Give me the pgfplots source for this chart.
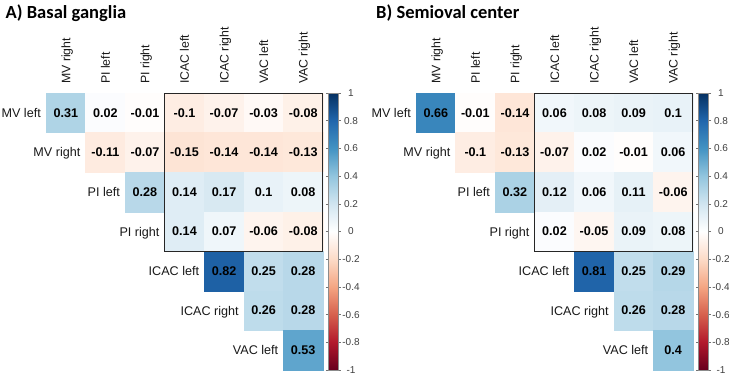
\documentclass[border=0pt]{standalone}
\usepackage{fontspec}
\setmainfont{Liberation Sans}
\newfontfamily\titlefont{Carlito}
\usepackage{pgfplots}
\usepackage{pgfplotstable}
\pgfplotsset{compat=1.18}

% Correlation values (upper triangle): column x, row y, coefficient c
\pgfplotstableread{
x y c
1 1 0.31
2 1 0.02
3 1 -0.01
4 1 -0.1
5 1 -0.07
6 1 -0.03
7 1 -0.08
2 2 -0.11
3 2 -0.07
4 2 -0.15
5 2 -0.14
6 2 -0.14
7 2 -0.13
3 3 0.28
4 3 0.14
5 3 0.17
6 3 0.1
7 3 0.08
4 4 0.14
5 4 0.07
6 4 -0.06
7 4 -0.08
5 5 0.82
6 5 0.25
7 5 0.28
6 6 0.26
7 6 0.28
7 7 0.53
}\basal

\pgfplotstableread{
x y c
1 1 0.66
2 1 -0.01
3 1 -0.14
4 1 0.06
5 1 0.08
6 1 0.09
7 1 0.1
2 2 -0.1
3 2 -0.13
4 2 -0.07
5 2 0.02
6 2 -0.01
7 2 0.06
3 3 0.32
4 3 0.12
5 3 0.06
6 3 0.11
7 3 -0.06
4 4 0.02
5 4 -0.05
6 4 0.09
7 4 0.08
5 5 0.81
6 5 0.25
7 5 0.29
6 6 0.26
7 6 0.28
7 7 0.4
}\semioval

\pgfplotsset{
  colormap={corrcol}{rgb255=(103,0,31) rgb255=(178,24,43) rgb255=(214,96,77)
    rgb255=(244,165,130) rgb255=(253,219,199) rgb255=(255,255,255)
    rgb255=(209,229,240) rgb255=(146,197,222) rgb255=(67,147,195)
    rgb255=(33,102,172) rgb255=(5,48,97)},
  corrpanel/.style={
    anchor=north west, scale only axis, width=277pt, height=277pt,
    xmin=0.5, xmax=7.5, ymin=0.5, ymax=7.5, y dir=reverse,
    hide axis, clip=false,
    colormap name=corrcol,
    point meta min=-1, point meta max=1,
    colorbar right,
    colorbar shift/.style={xshift=5.5pt},
    colorbar style={
      at={(parent axis.north east)}, anchor=north west,
      width=10pt,
      axis line style={draw=black!45, line width=0.4pt},
      ytick={-1,-0.8,-0.6,-0.4,-0.2,0,0.2,0.4,0.6,0.8,1},
      tick align=outside, major tick length=2.5pt,
      ytick style={draw=black!55, line width=0.5pt},
      /pgf/number format/assume math mode=true,
      yticklabel style={font=\fontsize{10}{12}\selectfont, text=black!75,
        anchor=center, xshift=10pt, inner sep=0pt},
    },
  },
}
\tikzset{
  rowlab/.style={anchor=base east, inner sep=0pt, xshift=-5pt, yshift=-4.5pt,
    font=\fontsize{12.6}{15}\selectfont, text=black!90},
  collab/.style={rotate=90, anchor=base west, inner sep=0pt,
    font=\fontsize{12.3}{15}\selectfont, text=black!90},
}

% row and column names; #1 names the corners of the framed block
\newcommand\corrlabels[1]{%
  \node[rowlab] at (axis cs:0.5,1) {MV left};
  \node[rowlab] at (axis cs:1.5,2) {MV right};
  \node[rowlab] at (axis cs:2.5,3) {PI left};
  \node[rowlab] at (axis cs:3.5,4) {PI right};
  \node[rowlab] at (axis cs:4.5,5) {ICAC left};
  \node[rowlab] at (axis cs:5.5,6) {ICAC right};
  \node[rowlab] at (axis cs:6.5,7) {VAC left};
  \node[collab] at ([xshift=4.5pt,yshift=9pt]axis cs:1,0.5) {MV right};
  \node[collab] at ([xshift=4.5pt,yshift=9pt]axis cs:2,0.5) {PI left};
  \node[collab] at ([xshift=4.5pt,yshift=9pt]axis cs:3,0.5) {PI right};
  \node[collab] at ([xshift=4.5pt,yshift=9pt]axis cs:4,0.5) {ICAC left};
  \node[collab] at ([xshift=4.5pt,yshift=9pt]axis cs:5,0.5) {ICAC right};
  \node[collab] at ([xshift=4.5pt,yshift=9pt]axis cs:6,0.5) {VAC left};
  \node[collab] at ([xshift=4.5pt,yshift=9pt]axis cs:7,0.5) {VAC right};
  \coordinate (#1-nw) at (axis cs:3.5,0.5);
  \coordinate (#1-se) at (axis cs:7.5,4.5);
}

% coloured cells, then the coefficient printed on each cell
\newcommand\corrcells[1]{%
  \addplot[scatter, only marks, mark=square*, mark size=19.786pt,
    point meta=\thisrow{c},
    scatter/use mapped color={draw=mapped color, fill=mapped color},
  ] table[x=x, y=y] {#1};
  \addplot[draw=none, mark=none, point meta=\thisrow{c},
    nodes near coords={\pgfmathprintnumber[fixed, precision=2, assume math mode=true]{\pgfplotspointmeta}},
    every node near coord/.append style={anchor=center, inner sep=0pt,
      text=black, font=\bfseries\fontsize{12.6}{15}\selectfont},
  ] table[x=x, y=y] {#1};
}

\begin{document}
\begin{tikzpicture}
\useasboundingbox (0,0) rectangle (729pt,-376pt);
\fill[white] (0,0) rectangle (729pt,-376pt);

\node[anchor=base west, inner sep=0pt, font=\titlefont\bfseries\fontsize{18.5}{22}\selectfont]
  at (5.5pt,-18.5pt) {A) Basal ganglia};
\node[anchor=base west, inner sep=0pt, font=\titlefont\bfseries\fontsize{18.5}{22}\selectfont]
  at (376pt,-18.5pt) {B) Semioval center};

\begin{axis}[corrpanel, at={(46pt,-93pt)}]
  \corrcells{\basal}
  \corrlabels{boxA}
\end{axis}
\draw[line width=1pt, black!85] (boxA-nw) rectangle (boxA-se);

\begin{axis}[corrpanel, at={(416pt,-93pt)}]
  \corrcells{\semioval}
  \corrlabels{boxB}
\end{axis}
\draw[line width=1pt, black!85] (boxB-nw) rectangle (boxB-se);
\end{tikzpicture}
\end{document}
